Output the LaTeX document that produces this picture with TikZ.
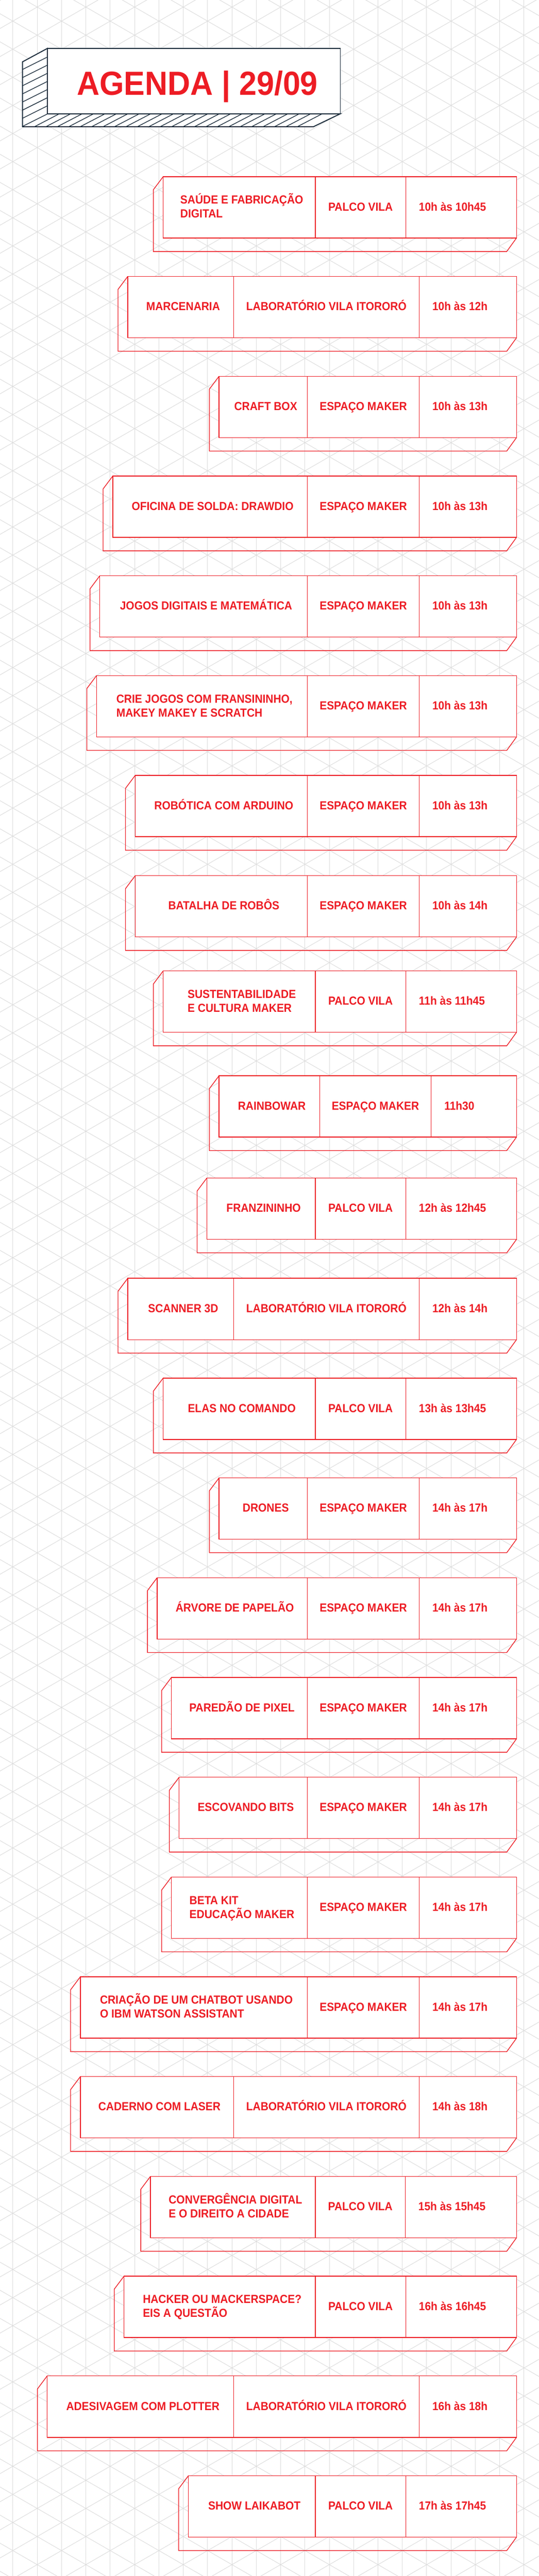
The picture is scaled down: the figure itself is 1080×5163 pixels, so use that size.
\documentclass[tikz,border=0pt]{standalone}
\usepackage{fontspec}
\setmainfont{Liberation Sans}[FakeStretch=0.92]
\newfontfamily\titlefont{Liberation Sans}[FakeStretch=0.94]
\definecolor{agendared}{HTML}{ED1C24}
\definecolor{agendanavy}{HTML}{1C2D3C}
\definecolor{gridgray}{HTML}{DCDCDC}

\begin{document}
\begin{tikzpicture}[x=0.5pt, y=-0.5pt,
  gridline/.style={gridgray, line width=0.5pt},
  headline/.style={agendanavy, line width=1pt},
  hatchline/.style={agendanavy, line width=0.7pt},
  boxline/.style={agendared, line width=0.7pt},
  cell/.style={text=agendared, inner sep=0pt, font=\bfseries\fontsize{11.75pt}{14pt}\selectfont}]

\fill[white] (0,0) rectangle (1080,5163);
\useasboundingbox (0,0) rectangle (1080,5163);

% isometric grid
\begin{scope}
\clip (0,0) rectangle (1080,5163);
\foreach \k in {0,...,22} \draw[gridline] ({25.7+48.78*\k},0) -- ++(0,5163);
\foreach \m in {-12,...,92} \draw[gridline] (0,{27.46+56.33*\m}) -- ++(1080,623.5);
\foreach \m in {-1,...,103} \draw[gridline] (0,{57.14+56.33*\m}) -- ++(1080,-623.5);
\end{scope}

% header
\filldraw[headline, fill=white] (95,97) -- (45,124) -- (45,254) -- (628,254) -- (682,228) -- (95,228) -- cycle;
\foreach \j in {0,...,7} \draw[hatchline] (45,{139.3+16.3*\j}) -- ++(50,-25);
\foreach \j in {0,...,23} \draw[hatchline] ({69+22.9*\j},254) -- ++(50,-26);
\filldraw[headline, fill=white] (95,97) rectangle (682,228);
\node[anchor=base, text=agendared, inner sep=0pt, font=\titlefont\bfseries\fontsize{33.5pt}{40pt}\selectfont] (title) at (395.5,190) {AGENDA | 29/09};

% rows: number / top / left / divider 1 / divider 2 / lines / activity / place / time
\foreach \i/\ty/\lx/\da/\db/\nl/\act/\loc/\tim in {
  1/354/327/632/813/2/{SAÚDE E FABRICAÇÃO\\DIGITAL}/PALCO VILA/10h às 10h45,
  2/554/256/468/840/1/MARCENARIA/LABORATÓRIO VILA ITORORÓ/10h às 12h,
  3/754/439/616/840/1/CRAFT BOX/ESPAÇO MAKER/10h às 13h,
  4/954/226/616/840/1/OFICINA DE SOLDA: DRAWDIO/ESPAÇO MAKER/10h às 13h,
  5/1154/200/616/840/1/JOGOS DIGITAIS E MATEMÁTICA/ESPAÇO MAKER/10h às 13h,
  6/1354/193.5/616/840/2/{CRIE JOGOS COM FRANSININHO,\\MAKEY MAKEY E SCRATCH}/ESPAÇO MAKER/10h às 13h,
  7/1554/271/616/840/1/ROBÓTICA COM ARDUINO/ESPAÇO MAKER/10h às 13h,
  8/1755/271/616/840/1/BATALHA DE ROBÔS/ESPAÇO MAKER/10h às 14h,
  9/1946/327/632/813/2/{SUSTENTABILIDADE\\E CULTURA MAKER}/PALCO VILA/11h às 11h45,
  10/2156/439/640.5/864/1/RAINBOWAR/ESPAÇO MAKER/11h30,
  11/2361/414.5/632/813/1/FRANZININHO/PALCO VILA/12h às 12h45,
  12/2562/256/468/840/1/SCANNER 3D/LABORATÓRIO VILA ITORORÓ/12h às 14h,
  13/2762/327/632/813/1/ELAS NO COMANDO/PALCO VILA/13h às 13h45,
  14/2962/439/616/840/1/DRONES/ESPAÇO MAKER/14h às 17h,
  15/3162/315/616/840/1/ÁRVORE DE PAPELÃO/ESPAÇO MAKER/14h às 17h,
  16/3362/343.5/616/840/1/PAREDÃO DE PIXEL/ESPAÇO MAKER/14h às 17h,
  17/3562/359/616/840/1/ESCOVANDO BITS/ESPAÇO MAKER/14h às 17h,
  18/3762/343.5/616/840/2/{BETA KIT\\EDUCAÇÃO MAKER}/ESPAÇO MAKER/14h às 17h,
  19/3962/161/616/840/2/{CRIAÇÃO DE UM CHATBOT USANDO\\O IBM WATSON ASSISTANT}/ESPAÇO MAKER/14h às 17h,
  20/4162/161/468/840/1/CADERNO COM LASER/LABORATÓRIO VILA ITORORÓ/14h às 18h,
  21/4362/301.5/632/812/2/{CONVERGÊNCIA DIGITAL\\E O DIREITO A CIDADE}/PALCO VILA/15h às 15h45,
  22/4562/248.5/632/813/2/{HACKER OU MACKERSPACE?\\EIS A QUESTÃO}/PALCO VILA/16h às 16h45,
  23/4762/94.5/468/840/1/ADESIVAGEM COM PLOTTER/LABORATÓRIO VILA ITORORÓ/16h às 18h,
  24/4962/377.5/632/813/1/SHOW LAIKABOT/PALCO VILA/17h às 17h45}{
  \draw[boxline] (\lx,\ty) -- ++(-19.5,26) -- ({\lx-19.5},{\ty+150}) -- (1015.5,{\ty+150}) -- (1035,{\ty+123});
  \filldraw[boxline, fill=white] (\lx,\ty) rectangle (1035,{\ty+123});
  \draw[boxline] (\da,\ty) -- ++(0,123);
  \draw[boxline] (\db,\ty) -- ++(0,123);
  \node[cell, anchor=base, align=left] (act\i) at ({(\lx+\da)/2+5},{\ty+68.5+14*(\nl-1)}) {\act};
  \node[cell, anchor=base] (loc\i) at ({(\da+\db)/2},{\ty+68.5}) {\loc};
  \node[cell, anchor=base west] (time\i) at ({\db+26},{\ty+68.5}) {\tim};
}

\end{tikzpicture}
\end{document}
